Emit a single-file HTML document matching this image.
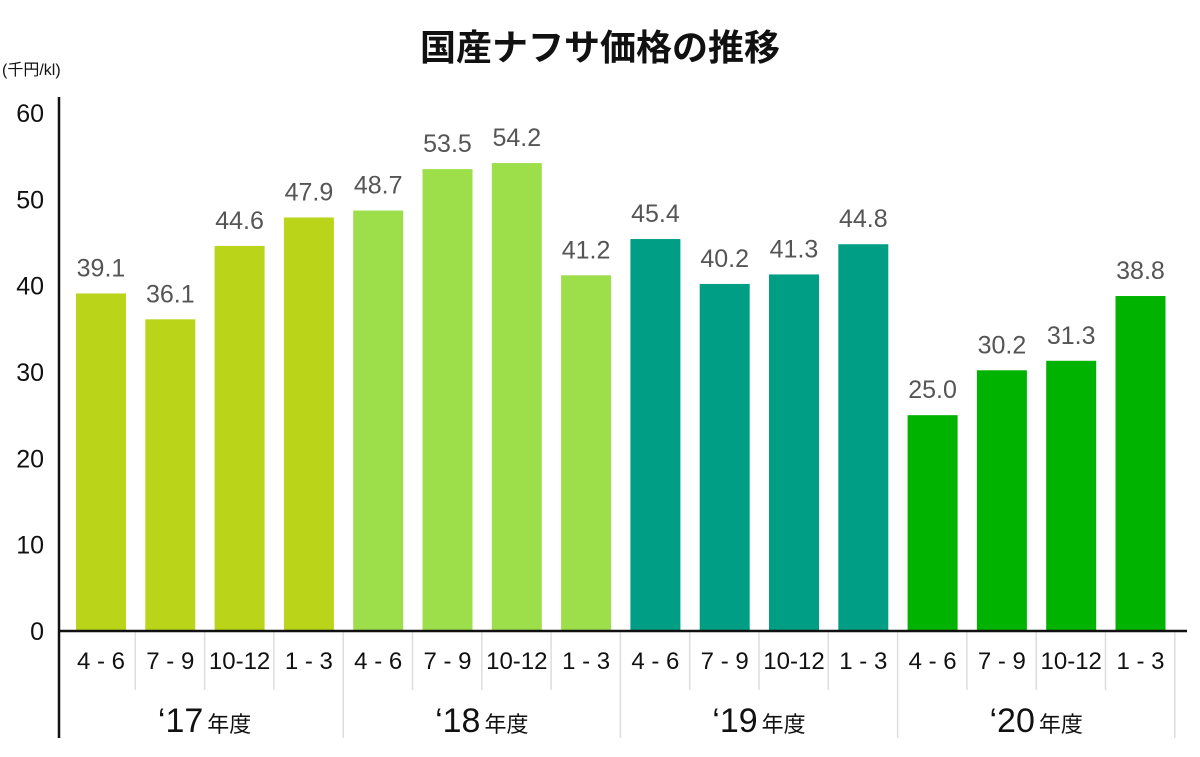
<!DOCTYPE html>
<html><head><meta charset="utf-8"><style>
body{margin:0;background:#fff;}
svg text{font-family:"Liberation Sans","Noto Sans CJK JP",sans-serif;}
</style></head><body>
<svg id="c" width="1200" height="752" xmlns="http://www.w3.org/2000/svg">
<text x="600" y="60" text-anchor="middle" font-size="36" font-weight="bold" fill="#111">国産ナフサ価格の推移</text>
<text x="2" y="75" font-size="16" fill="#111">(千円/kl)</text>
<g id="g"></g>
</svg>
<script>
const categories=["4 - 6","7 - 9","10-12","1 - 3","4 - 6","7 - 9","10-12","1 - 3","4 - 6","7 - 9","10-12","1 - 3","4 - 6","7 - 9","10-12","1 - 3"];
const values=[39.1,36.1,44.6,47.9,48.7,53.5,54.2,41.2,45.4,40.2,41.3,44.8,25.0,30.2,31.3,38.8];
const years=["17","18","19","20"];
const yTicks=[0,10,20,30,40,50,60];
const colors=["#b9d419","#9cdf4b","#009e84","#00b300"];
const NS="http://www.w3.org/2000/svg",g=document.getElementById('g');
const y0=631,yTop=113,yMax=60,x0=66,slot=69.3;
const y=v=>y0-(v/yMax)*(y0-yTop);
const x=i=>x0+i*slot;
function mk(t,a,txt){const e=document.createElementNS(NS,t);for(const k in a)e.setAttribute(k,a[k]);if(txt!=null)e.textContent=txt;g.appendChild(e);return e;}
yTicks.forEach(t=>{const e=mk('text',{x:44,y:y(t)+9,'text-anchor':'end','font-size':25,fill:'#111'},t);

});
values.forEach((v,i)=>{const b=mk('rect',{x:x(i)+10,y:y(v),width:50,height:y0-y(v),fill:colors[Math.floor(i/4)]});


const l=mk('text',{x:x(i)+35,y:y(v)-17,'text-anchor':'middle','font-size':25,fill:'#555'},v.toFixed(1));


const c=mk('text',{x:x(i)+35,y:669,'text-anchor':'middle','font-size':24,fill:'#111'},categories[i]);


if(i>0){const s=mk('line',{x1:x(i),x2:x(i),y1:632,y2:i%4==0?738:690,stroke:'#ddd','stroke-width':1.5});

}});
const se=mk('line',{x1:x(16),x2:x(16),y1:632,y2:738,stroke:'#ddd','stroke-width':1.5});


years.forEach((yr,k)=>{const t=mk('text',{x:x(k*4)+2*slot,y:732,'text-anchor':'middle',fill:'#111'});


t.innerHTML="<tspan font-size='34'>‘"+yr+"</tspan><tspan font-size='22' dx='4'>年度</tspan>";});
const ax=mk('line',{x1:59,x2:59,y1:97,y2:738,stroke:'#111','stroke-width':2.5});


const bx=mk('line',{x1:58,x2:1187,y1:631,y2:631,stroke:'#111','stroke-width':2.5});


</script>
</body></html>
